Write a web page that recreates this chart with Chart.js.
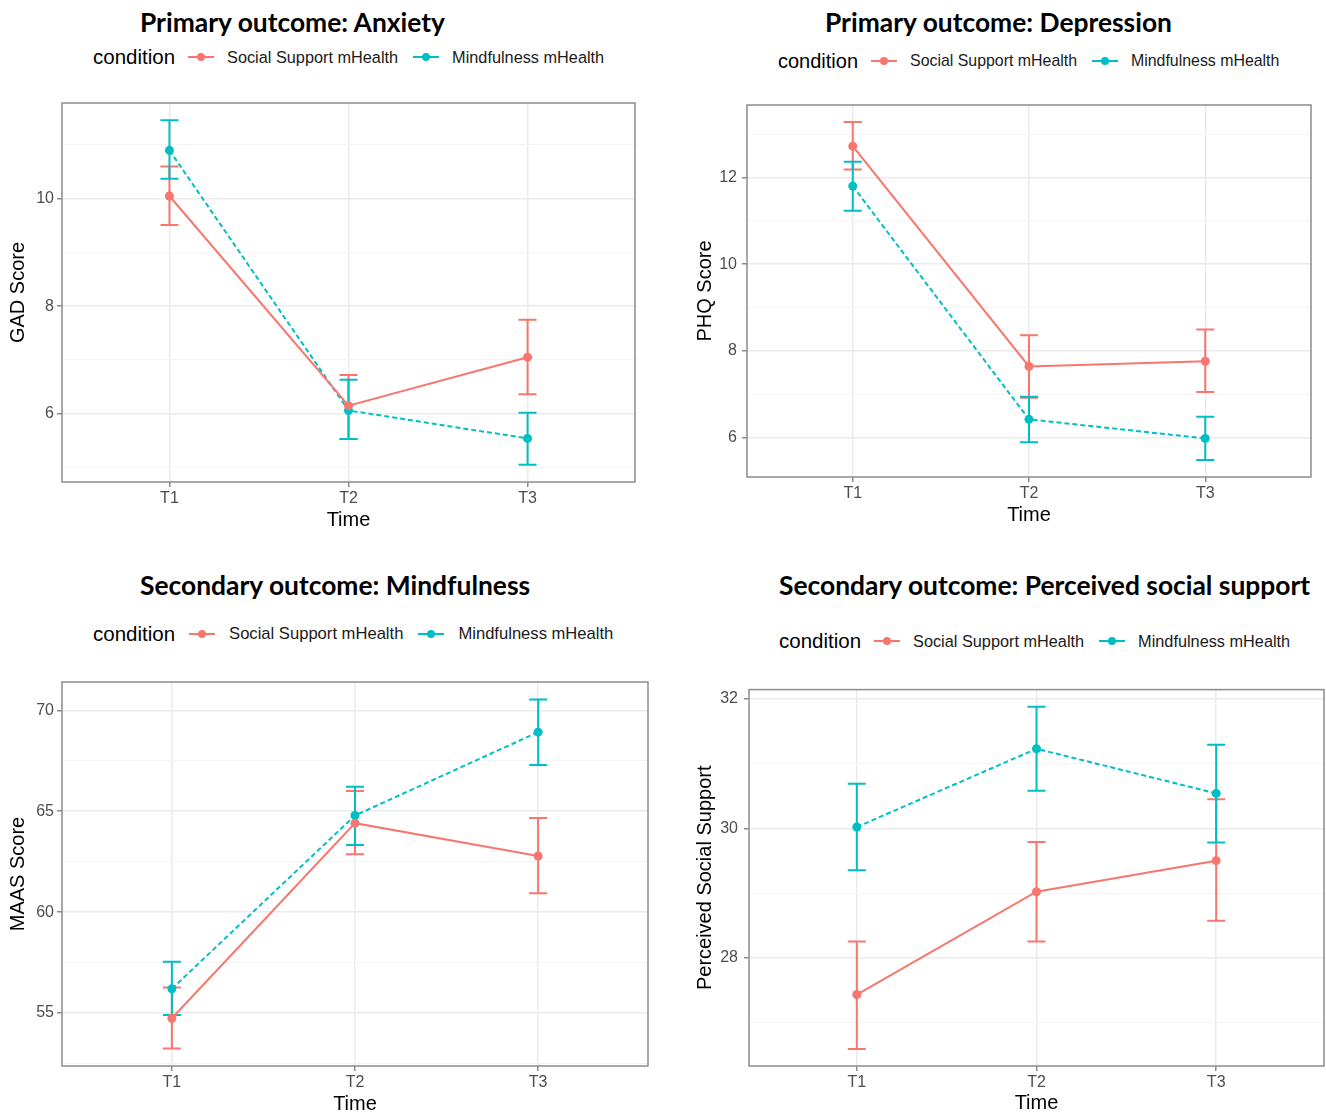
<!DOCTYPE html>
<html>
<head>
<meta charset="utf-8">
<script src="https://cdn.jsdelivr.net/npm/chart.js@4.4.1/dist/chart.umd.min.js"></script>
<style>
  html, body { margin: 0; padding: 0; background: #fff; }
  body { width: 1326px; height: 1114px; position: relative; overflow: hidden;
         font-family: "Liberation Sans", Arial, sans-serif; }
  .title { position: absolute; font-family: Lato, "Noto Sans", sans-serif; font-weight: 700;
           font-size: 26.4px; line-height: 30px; white-space: nowrap; color: #000; }
  .legend { position: absolute; display: flex; align-items: center; height: 24px; white-space: nowrap; }
  .legend .lt { color: #000; }
  .legend .lab { color: #1a1a1a; }
  .legend svg { display: block; }
  canvas { position: absolute; }
</style>
</head>
<body>
<script>
const timeLabels = ['T1', 'T2', 'T3'];
const seriesNames = ['Social Support mHealth', 'Mindfulness mHealth'];

// anxiety (GAD)
const gadSocial   = [10.05, 6.15, 7.05];
const gadSocialLo = [9.51, 5.53, 6.36];
const gadSocialHi = [10.60, 6.72, 7.75];
const gadMind     = [10.90, 6.06, 5.54];
const gadMindLo   = [10.37, 5.53, 5.05];
const gadMindHi   = [11.46, 6.63, 6.02];
const gadTicks = [6, 8, 10];

// depression (PHQ)
const phqSocial   = [12.72, 7.64, 7.76];
const phqSocialLo = [12.18, 6.92, 7.05];
const phqSocialHi = [13.28, 8.36, 8.49];
const phqMind     = [11.80, 6.42, 5.98];
const phqMindLo   = [11.23, 5.89, 5.48];
const phqMindHi   = [12.36, 6.94, 6.48];
const phqTicks = [6, 8, 10, 12];

// mindfulness (MAAS)
const maasSocial   = [54.74, 64.41, 62.78];
const maasSocialLo = [53.24, 62.87, 60.93];
const maasSocialHi = [56.26, 66.00, 64.67];
const maasMind     = [56.20, 64.79, 68.92];
const maasMindLo   = [54.90, 63.33, 67.29];
const maasMindHi   = [57.54, 66.22, 70.54];
const maasTicks = [55, 60, 65, 70];

// perceived social support
const pssSocial   = [27.43, 29.02, 29.50];
const pssSocialLo = [26.59, 28.25, 28.57];
const pssSocialHi = [28.25, 29.79, 30.45];
const pssMind     = [30.02, 31.23, 30.54];
const pssMindLo   = [29.35, 30.58, 29.78];
const pssMindHi   = [30.69, 31.88, 31.29];
const pssTicks = [28, 30, 32];

const RED = '#F8766D';
const TEAL = '#00BFC4';
const FRAME = '#8c8c8c';

const panels = [
    {
        title: 'Primary outcome: Anxiety', titlePos: [140, 7],
        legendPos: [93, 45], legendFont: [20.5, 16.3], legendGap: [13, 15], yTitle: 'GAD Score',
        social: [gadSocial, gadSocialLo, gadSocialHi], mind: [gadMind, gadMindLo, gadMindHi],
        ticks: gadTicks,
        canvas: {x: 0, y: 90, w: 650, h: 450}, box: {l: 62, r: 635, t: 103, b: 482},
        yTitlePad: 8, xTitlePad: 10, tickPad: 3
    },
    {
        title: 'Primary outcome: Depression', titlePos: [825, 7],
        legendPos: [778, 49], legendFont: [20, 15.9], legendGap: [13, 15], yTitle: 'PHQ Score',
        social: [phqSocial, phqSocialLo, phqSocialHi], mind: [phqMind, phqMindLo, phqMindHi],
        ticks: phqTicks,
        canvas: {x: 680, y: 90, w: 646, h: 445}, box: {l: 747, r: 1311, t: 105, b: 477},
        yTitlePad: 15, xTitlePad: 10, tickPad: 5
    },
    {
        title: 'Secondary outcome: Mindfulness', titlePos: [140, 570],
        legendPos: [93, 622], legendFont: [20.5, 16.6], legendGap: [14, 15], yTitle: 'MAAS Score',
        social: [maasSocial, maasSocialLo, maasSocialHi], mind: [maasMind, maasMindLo, maasMindHi],
        ticks: maasTicks,
        canvas: {x: 0, y: 669, w: 660, h: 445}, box: {l: 62, r: 648, t: 682, b: 1066},
        yTitlePad: 8, xTitlePad: 0, tickPad: 3
    },
    {
        title: 'Secondary outcome: Perceived social support', titlePos: [779, 570],
        legendPos: [779, 629], legendFont: [20.5, 16.3], legendGap: [13, 15], yTitle: 'Perceived Social Support',
        social: [pssSocial, pssSocialLo, pssSocialHi], mind: [pssMind, pssMindLo, pssMindHi],
        ticks: pssTicks,
        canvas: {x: 680, y: 674, w: 646, h: 440}, box: {l: 749, r: 1324, t: 687, b: 1066},
        yTitlePad: 15, xTitlePad: 1, tickPad: 6
    }
];

// error bars drawn under lines/points, from each dataset's lo/hi arrays
const errorBars = {
    id: 'errorBars',
    beforeDatasetsDraw(chart) {
        const ctx = chart.ctx;
        const x = chart.scales.x, y = chart.scales.y;
        chart.data.datasets.forEach(ds => {
            ctx.save();
            ctx.strokeStyle = ds.borderColor;
            ctx.lineWidth = 2;
            ds.lo.forEach((lo, i) => {
                const px = x.getPixelForValue(i);
                const top = y.getPixelForValue(ds.hi[i]);
                const bot = y.getPixelForValue(lo);
                ctx.beginPath();
                ctx.moveTo(px, top); ctx.lineTo(px, bot);
                ctx.moveTo(px - 9, top); ctx.lineTo(px + 9, top);
                ctx.moveTo(px - 9, bot); ctx.lineTo(px + 9, bot);
                ctx.stroke();
            });
            ctx.restore();
        });
    }
};

// ggplot-ish panel border
const frame = {
    id: 'frame',
    afterDraw(chart) {
        const {ctx, chartArea: a} = chart;
        ctx.save();
        ctx.strokeStyle = FRAME;
        ctx.lineWidth = 1.5;
        ctx.strokeRect(a.left, a.top, a.right - a.left, a.bottom - a.top);
        ctx.restore();
    }
};

function keySvg(color) {
    return '<svg width="26" height="12"><line x1="0" y1="6" x2="26" y2="6" stroke="' + color +
        '" stroke-width="2"/><circle cx="13" cy="6" r="4" fill="' + color + '"/></svg>';
}

function addText(p) {
    const t = document.createElement('div');
    t.className = 'title';
    t.textContent = p.title;
    t.style.left = p.titlePos[0] + 'px';
    t.style.top = p.titlePos[1] + 'px';
    document.body.appendChild(t);

    const lg = document.createElement('div');
    lg.className = 'legend';
    lg.style.left = p.legendPos[0] + 'px';
    lg.style.top = p.legendPos[1] + 'px';
    const labStyle = 'font-size:' + p.legendFont[1] + 'px;margin-left:' + p.legendGap[0] +
        'px;margin-right:' + p.legendGap[1] + 'px';
    lg.innerHTML = '<span class="lt" style="font-size:' + p.legendFont[0] + 'px;margin-right:' +
        p.legendGap[0] + 'px">condition</span>' +
        keySvg(RED) + '<span class="lab" style="' + labStyle + '">' + seriesNames[0] + '</span>' +
        keySvg(TEAL) + '<span class="lab" style="' + labStyle + '">' + seriesNames[1] + '</span>';
    document.body.appendChild(lg);
}

function makePanel(p) {
    addText(p);

    const cv = document.createElement('canvas');
    cv.width = p.canvas.w;
    cv.height = p.canvas.h;
    cv.style.left = p.canvas.x + 'px';
    cv.style.top = p.canvas.y + 'px';
    cv.style.width = p.canvas.w + 'px';
    cv.style.height = p.canvas.h + 'px';
    document.body.appendChild(cv);

    // ggplot default: data range (incl. error bars) expanded by 5%
    const all = p.social[1].concat(p.social[2], p.mind[1], p.mind[2]);
    const lo = Math.min(...all), hi = Math.max(...all);
    const ymin = lo - 0.05 * (hi - lo), ymax = hi + 0.05 * (hi - lo);

    const step = p.ticks[1] - p.ticks[0];
    const minor = [];
    for (let v = p.ticks[0] - step / 2; v <= p.ticks[p.ticks.length - 1] + step / 2 + 1e-9; v += step) {
        if (v > ymin && v < ymax) minor.push(v);
    }
    const yVals = p.ticks.concat(minor).sort((a, b) => a - b);
    const isMajor = v => p.ticks.some(t => Math.abs(t - v) < 1e-6);

    const tickFont = {family: '"Liberation Sans", Arial, sans-serif', size: 16};
    const titleFont = {family: '"Liberation Sans", Arial, sans-serif', size: 20, lineHeight: 1};

    new Chart(cv, {
        type: 'line',
        data: {
            datasets: [
                {
                    label: seriesNames[0],
                    data: p.social[0].map((v, i) => ({x: i, y: v})),
                    lo: p.social[1], hi: p.social[2],
                    borderColor: RED, backgroundColor: RED,
                    borderWidth: 2, pointRadius: 4.5, pointBorderWidth: 0, tension: 0
                },
                {
                    label: seriesNames[1],
                    data: p.mind[0].map((v, i) => ({x: i, y: v})),
                    lo: p.mind[1], hi: p.mind[2],
                    borderColor: TEAL, backgroundColor: TEAL,
                    borderWidth: 2, borderDash: [5, 3], pointRadius: 4.5, pointBorderWidth: 0, tension: 0
                }
            ]
        },
        options: {
            responsive: false,
            animation: false,
            devicePixelRatio: 1,
            layout: {
                autoPadding: false,
                padding: {
                    left: 0, bottom: 0,
                    right: p.canvas.x + p.canvas.w - p.box.r,
                    top: p.box.t - p.canvas.y
                }
            },
            plugins: {legend: {display: false}, tooltip: {enabled: false}},
            scales: {
                x: {
                    type: 'linear', min: -0.6, max: 2.6,
                    afterBuildTicks: s => { s.ticks = timeLabels.map((_, i) => ({value: i})); },
                    afterFit: s => { s.height = p.canvas.y + p.canvas.h - p.box.b; },
                    ticks: {
                        callback: v => timeLabels[v], font: tickFont, color: '#4d4d4d',
                        padding: 2, maxRotation: 0, autoSkip: false
                    },
                    grid: {color: '#ebebeb', lineWidth: 1.5, tickColor: FRAME, tickLength: 5},
                    border: {display: false},
                    title: {display: true, text: 'Time', font: titleFont, color: '#000',
                            padding: {top: 0, bottom: p.xTitlePad}}
                },
                y: {
                    min: ymin, max: ymax,
                    afterBuildTicks: s => { s.ticks = yVals.map(v => ({value: v})); },
                    afterFit: s => { s.width = p.box.l - p.canvas.x; },
                    ticks: {
                        callback: v => isMajor(v) ? String(v) : '', font: tickFont, color: '#4d4d4d',
                        padding: p.tickPad, autoSkip: false
                    },
                    grid: {
                        color: c => isMajor(c.tick.value) ? '#ebebeb' : '#f4f4f4',
                        lineWidth: c => isMajor(c.tick.value) ? 1.5 : 1,
                        tickColor: c => isMajor(c.tick.value) ? FRAME : 'rgba(0,0,0,0)',
                        tickLength: 5
                    },
                    border: {display: false},
                    title: {display: true, text: p.yTitle, font: titleFont, color: '#000',
                            padding: {top: p.yTitlePad, bottom: 0}}
                }
            }
        },
        plugins: [errorBars, frame]
    });
}

panels.forEach(makePanel);
</script>
</body>
</html>
